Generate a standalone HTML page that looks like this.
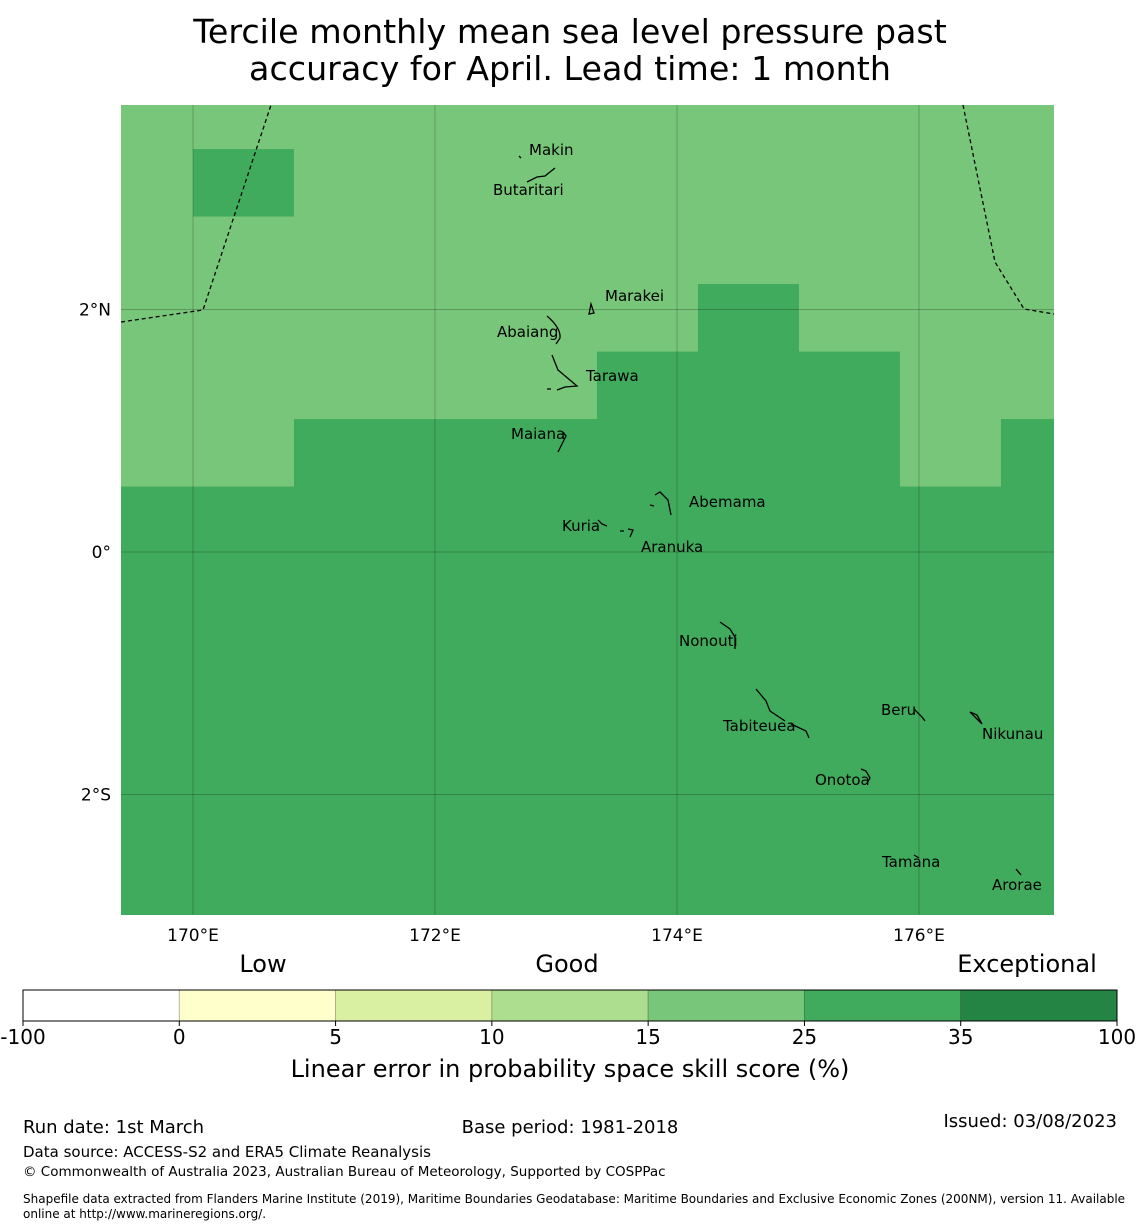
<!DOCTYPE html>
<html><head><meta charset="utf-8"><style>
body{margin:0;background:#fff;}
svg{display:block;font-family:"DejaVu Sans","Liberation Sans",sans-serif;}
</style></head><body>
<svg id="chart" width="1140" height="1230" viewBox="0 0 1140 1230">
<text x="570" y="43" font-size="33.3" text-anchor="middle">Tercile monthly mean sea level pressure past</text>
<text x="570" y="80" font-size="33.3" text-anchor="middle">accuracy for April. Lead time: 1 month</text>
<defs><clipPath id="mapclip"><rect x="121" y="105" width="933" height="810"/></clipPath></defs>
<g id="map" clip-path="url(#mapclip)"></g>
<g id="overlay"></g>
<g id="cbar"></g>
<text x="263" y="972" font-size="24" text-anchor="middle">Low</text>
<text x="567" y="972" font-size="24" text-anchor="middle">Good</text>
<text x="1027" y="972" font-size="24" text-anchor="middle">Exceptional</text>
<text x="570" y="1077" font-size="24" text-anchor="middle">Linear error in probability space skill score (%)</text>
<text x="23" y="1133" font-size="18">Run date: 1st March</text>
<text x="570" y="1133" font-size="18" text-anchor="middle">Base period: 1981-2018</text>
<text x="1117" y="1127" font-size="18" text-anchor="end">Issued: 03/08/2023</text>
<text x="23" y="1157" font-size="15">Data source: ACCESS-S2 and ERA5 Climate Reanalysis</text>
<text x="23" y="1176" font-size="13.5">© Commonwealth of Australia 2023, Australian Bureau of Meteorology, Supported by COSPPac</text>
<text x="23" y="1203" font-size="12">Shapefile data extracted from Flanders Marine Institute (2019), Maritime Boundaries Geodatabase: Maritime Boundaries and Exclusive Economic Zones (200NM), version 11. Available</text>
<text x="23" y="1218" font-size="12">online at http://www.marineregions.org/.</text>
</svg>
<script>
const NS="http://www.w3.org/2000/svg";
// grid data: skill score per cell (rows top->bottom, cols left->right)
const gridLon0=169.165, gridLat0=3.880, cellLon=0.8347, cellLat=0.5567;
const skillRows=[
[20,20,20,20,20,20,20,20,20,20],
[20,30,20,20,20,20,20,20,20,20],
[20,20,20,20,20,20,20,20,20,20],
[20,20,20,20,20,20,30,20,20,20],
[20,20,20,20,20,30,30,30,20,20],
[20,20,30,30,30,30,30,30,20,30],
[30,30,30,30,30,30,30,30,30,30],
[30,30,30,30,30,30,30,30,30,30],
[30,30,30,30,30,30,30,30,30,30],
[30,30,30,30,30,30,30,30,30,30],
[30,30,30,30,30,30,30,30,30,30],
[30,30,30,30,30,30,30,30,30,30],
[30,30,30,30,30,30,30,30,30,30]
];
const bounds=[-100,0,5,10,15,25,35,100];
const colors=["#ffffff","#ffffcc","#d9f0a3","#addd8e","#78c679","#41ab5d","#238443"];
const lonTicks=[170,172,174,176];
const lonLabels=["170°E","172°E","174°E","176°E"];
const latTicks=[2,0,-2];
const latLabels=["2°N","0°","2°S"];
const islands=[
["Makin",172.97,3.38,529,155],["Butaritari",172.9,3.1,493,195],["Marakei",173.33,2.0,605,301],
["Abaiang",173.0,1.85,497,337],["Tarawa",173.0,1.4,586,381],["Maiana",173.0,0.95,511,439],
["Abemama",173.9,0.38,689,507],["Kuria",173.4,0.22,562,531],["Aranuka",173.6,0.17,641,552],
["Nonouti",174.4,-0.65,679,646],["Tabiteuea",174.85,-1.35,723,731],["Beru",175.98,-1.33,881,715],
["Nikunau",176.45,-1.36,982,739],["Onotoa",175.55,-1.85,815,785],["Tamana",175.98,-2.5,882,867],["Arorae",176.82,-2.65,992,890]
];
const X=lon=>193+(lon-170)*121;
const Y=lat=>552-lat*121.25;
function colorFor(v){for(let i=0;i<colors.length;i++){if(v>=bounds[i]&&v<bounds[i+1])return colors[i];}return colors[colors.length-1];}
function mk(tag,attrs,parent){const e=document.createElementNS(NS,tag);for(const k in attrs)e.setAttribute(k,attrs[k]);parent.appendChild(e);return e;}
const map=document.getElementById('map');
skillRows.forEach((row,r)=>row.forEach((v,c)=>{
 const x0=X(gridLon0+c*cellLon),x1=X(gridLon0+(c+1)*cellLon);
 const y0=Y(gridLat0-r*cellLat),y1=Y(gridLat0-(r+1)*cellLat);
 const el=mk('rect',{x:x0,y:y0,width:x1-x0+0.5,height:y1-y0+0.5,fill:colorFor(v)},map);
 
 
}));
const ov=document.getElementById('overlay');
lonTicks.forEach((t,i)=>{
 const g=mk('line',{x1:X(t),x2:X(t),y1:105,y2:915,stroke:"rgba(0,0,0,0.3)","stroke-width":0.7},ov);
 
 
 const tx=mk('text',{x:X(t),y:941,"font-size":17,"text-anchor":"middle"},ov);tx.textContent=lonLabels[i];
 
 
});
latTicks.forEach((t,i)=>{
 const g=mk('line',{x1:121,x2:1054,y1:Y(t),y2:Y(t),stroke:"rgba(0,0,0,0.3)","stroke-width":0.7},ov);
 
 
 const tx=mk('text',{x:111,y:Y(t)+6,"font-size":17,"text-anchor":"end"},ov);tx.textContent=latLabels[i];
 
 
});
// EEZ boundaries
[["121,322 203,310 271,105"],["963,105 995,262 1024,309 1054,314"]].forEach(p=>{
 const l=mk('polyline',{points:p[0],fill:"none",stroke:"#000","stroke-width":1.3,"stroke-dasharray":"4,3"},ov);
 
 
});
// island outlines (approximate)
const shapes=["M519,156 l2,2","M555,168 l-10,8 -8,1 -10,5","M589,314 l2,-10 3,9 z","M547,316 q14,12 13,22 l-4,6","M552,355 l6,15 19,16 -12,1 -8,3 M547,389 l4,0","M563,432 l3,4 -5,10 -3,6",
"M650,505 l4,1 M655,495 l5,-3 8,8 3,15","M598,520 l4,4 5,2","M620,531 l4,0 M628,529 l5,1 -3,7","M720,622 l10,7 5,8 0,12","M756,689 l10,12 4,10 15,10 M791,724 l15,7 3,7","M914,709 l8,8 3,4","M970,712 l7,3 5,9 z","M861,769 l5,2 4,7 -3,5","M914,855 l5,3","M1016,869 l5,6"];
shapes.forEach(d=>{const s=mk('path',{d:d,fill:"none",stroke:"#000","stroke-width":1.3},ov);
 
 });
islands.forEach(is=>{
 const t=mk('text',{x:is[3],y:is[4],"font-size":15},ov);t.textContent=is[0];
 
 
});
// colorbar
const cb=document.getElementById('cbar');
const cbx0=23,cbx1=1117,cbw=(cbx1-cbx0)/colors.length;
colors.forEach((c,i)=>{
 const r=mk('rect',{x:cbx0+i*cbw,y:990,width:cbw,height:31,fill:c,stroke:"rgba(0,0,0,0.25)","stroke-width":0.8},cb);
 
 
});
mk('rect',{x:cbx0,y:990,width:cbx1-cbx0,height:31,fill:"none",stroke:"#000","stroke-width":1},cb);
bounds.forEach((b,i)=>{
 const x=cbx0+i*cbw;
 mk('line',{x1:x,x2:x,y1:1021,y2:1026,stroke:"#000"},cb);
 const t=mk('text',{x:x,y:1044,"font-size":20,"text-anchor":"middle"},cb);t.textContent=b;
 
 
});
</script>
</body></html>
